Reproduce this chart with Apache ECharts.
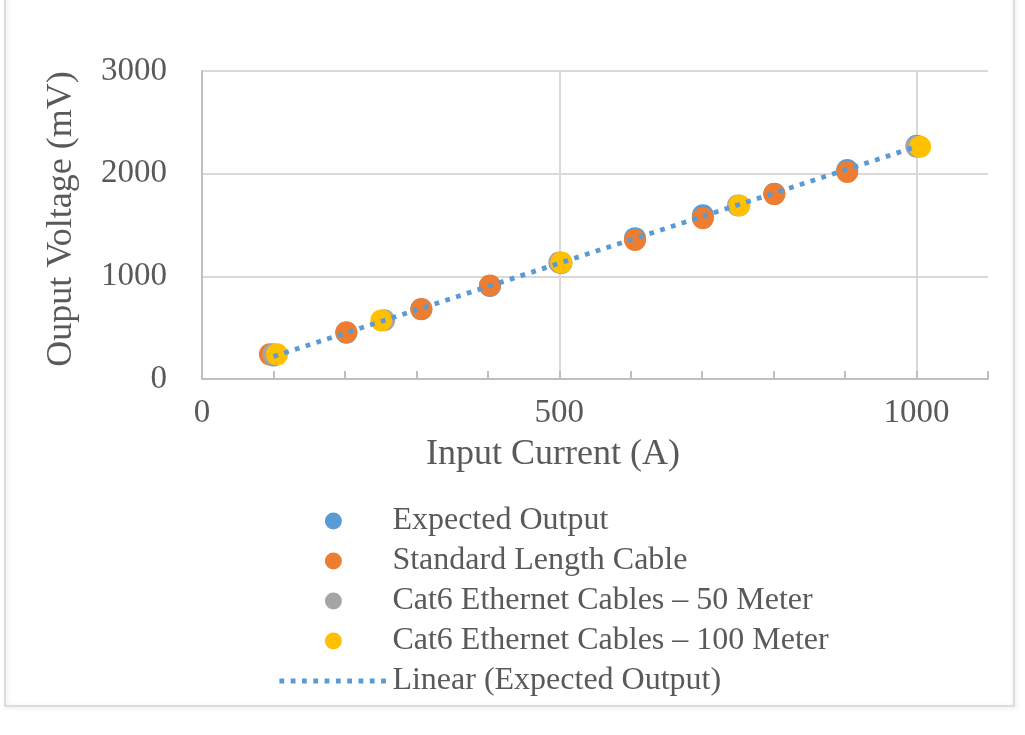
<!DOCTYPE html>
<html>
<head>
<meta charset="utf-8">
<script src="https://cdn.jsdelivr.net/npm/echarts@6/dist/echarts.min.js"></script>
<style>
  html, body { margin: 0; padding: 0; background: #fff; }
  #main { width: 1025px; height: 735px; }
</style>
</head>
<body>
<div id="main"></div>
<script>
// data
var expectedX = [100, 202, 307, 403, 503, 606, 701, 801, 903, 1000];
var expectedY = [228, 450, 680, 905, 1130, 1372, 1595, 1805, 2035, 2272];

var standardX = [95, 202, 307, 403, 606, 701, 801, 903];
var standardY = [240, 455, 681, 911, 1354, 1565, 1801, 2017];

var cat50X = [100, 255, 500, 750, 1000];
var cat50Y = [240, 572, 1135, 1690, 2262];

var cat100X = [105, 251, 503, 752, 1005];
var cat100Y = [240, 571, 1134, 1691, 2262];

var seriesNames = ['Expected Output', 'Standard Length Cable', 'Cat6 Ethernet Cables \u2013 50 Meter',
                   'Cat6 Ethernet Cables \u2013 100 Meter', 'Linear (Expected Output)'];

function pairs(xs, ys) {
    var out = [];
    for (var i = 0; i < xs.length; i++) out.push([xs[i], ys[i]]);
    return out;
}

// least squares trendline of the expected output (like Excel's "Linear")
function trend(xs, ys) {
    var n = xs.length, sx = 0, sy = 0, sxx = 0, sxy = 0;
    for (var i = 0; i < n; i++) {
        sx += xs[i]; sy += ys[i]; sxx += xs[i] * xs[i]; sxy += xs[i] * ys[i];
    }
    var b = (n * sxy - sx * sy) / (n * sxx - sx * sx);
    var a = (sy - b * sx) / n;
    var x0 = Math.min.apply(null, xs), x1 = Math.max.apply(null, xs);
    return [[x0, a + b * x0], [x1, a + b * x1]];
}

var font = 'Liberation Serif';
var textCol = '#595959';
// square dots, close to Excel's round dot
var dotLine = { color: '#5b9bd5', width: 4.8, type: [4.8, 6.5], cap: 'butt' };

var myChart = echarts.init(document.getElementById('main'));
var option = {
    backgroundColor: '#fff',
    animation: false,
    graphic: [{
        type: 'rect',
        shape: { x: 5, y: -10, width: 1009, height: 716 },
        style: { fill: 'none', stroke: '#d4d4d4', lineWidth: 1.5,
                 shadowBlur: 4, shadowColor: 'rgba(0,0,0,0.15)', shadowOffsetX: 1, shadowOffsetY: 1 },
        z: -1
    }],
    grid: {
        left: 202, right: 37, top: 71, bottom: 356,
        outerBoundsMode: 'none'
    },
    legend: {
        orient: 'vertical',
        left: 272,
        top: 500,
        itemWidth: 108,
        itemHeight: 17,
        itemGap: 8,
        textStyle: { fontFamily: font, fontSize: 32, lineHeight: 32, color: textCol },
        data: [
            { name: seriesNames[0], icon: 'circle' },
            { name: seriesNames[1], icon: 'circle' },
            { name: seriesNames[2], icon: 'circle' },
            { name: seriesNames[3], icon: 'circle' },
            { name: seriesNames[4], itemStyle: { opacity: 0 }, lineStyle: dotLine }
        ]
    },
    xAxis: {
        type: 'value',
        min: 0,
        max: 1100,
        interval: 500,
        name: 'Input Current (A)',
        nameLocation: 'middle',
        nameGap: 58,
        nameTextStyle: { fontFamily: font, fontSize: 36, color: textCol, padding: [0, 84, 0, 0] },
        axisLine: { show: true, lineStyle: { color: '#bfbfbf', width: 2 } },
        axisTick: { show: true, inside: true, length: 8, lineStyle: { color: '#bfbfbf', width: 2 } },
        minorTick: { show: true, splitNumber: 5, length: 8, lineStyle: { color: '#bfbfbf', width: 2 } },
        axisLabel: {
            fontFamily: font, fontSize: 33, color: textCol, margin: 18,
            showMaxLabel: false,
            formatter: function (v) { return v % 500 === 0 ? String(v) : ''; }
        },
        splitLine: { show: true, showMinLine: false, showMaxLine: false,
                     lineStyle: { color: '#d9d9d9', width: 2 } }
    },
    yAxis: {
        type: 'value',
        min: 0,
        max: 3000,
        interval: 1000,
        name: 'Ouput Voltage (mV)',
        nameLocation: 'middle',
        nameRotate: 90,
        nameGap: 122,
        nameTextStyle: { fontFamily: font, fontSize: 36, color: textCol, padding: [0, 0, 0, 12] },
        axisLine: { show: true, lineStyle: { color: '#bfbfbf', width: 2 } },
        axisTick: { show: false },
        axisLabel: { fontFamily: font, fontSize: 33, color: textCol, margin: 35,
                     formatter: function (v) { return String(v); } },
        splitLine: { show: true, lineStyle: { color: '#d9d9d9', width: 2 } }
    },
    series: [
        { name: seriesNames[0], type: 'scatter', symbolSize: 22, z: 2,
          itemStyle: { color: '#5b9bd5', opacity: 1 }, data: pairs(expectedX, expectedY) },
        { name: seriesNames[1], type: 'scatter', symbolSize: 22, z: 3,
          itemStyle: { color: '#ed7d31', opacity: 1 }, data: pairs(standardX, standardY) },
        { name: seriesNames[2], type: 'scatter', symbolSize: 22, z: 4,
          itemStyle: { color: '#a5a5a5', opacity: 1 }, data: pairs(cat50X, cat50Y) },
        { name: seriesNames[3], type: 'scatter', symbolSize: 22, z: 5,
          itemStyle: { color: '#ffc000', opacity: 1 }, data: pairs(cat100X, cat100Y) },
        { name: seriesNames[4], type: 'line', z: 6, symbol: 'none', showSymbol: false,
          itemStyle: { color: '#5b9bd5' },
          lineStyle: dotLine,
          data: trend(expectedX, expectedY) }
    ]
};
myChart.setOption(option);
</script>
</body>
</html>
